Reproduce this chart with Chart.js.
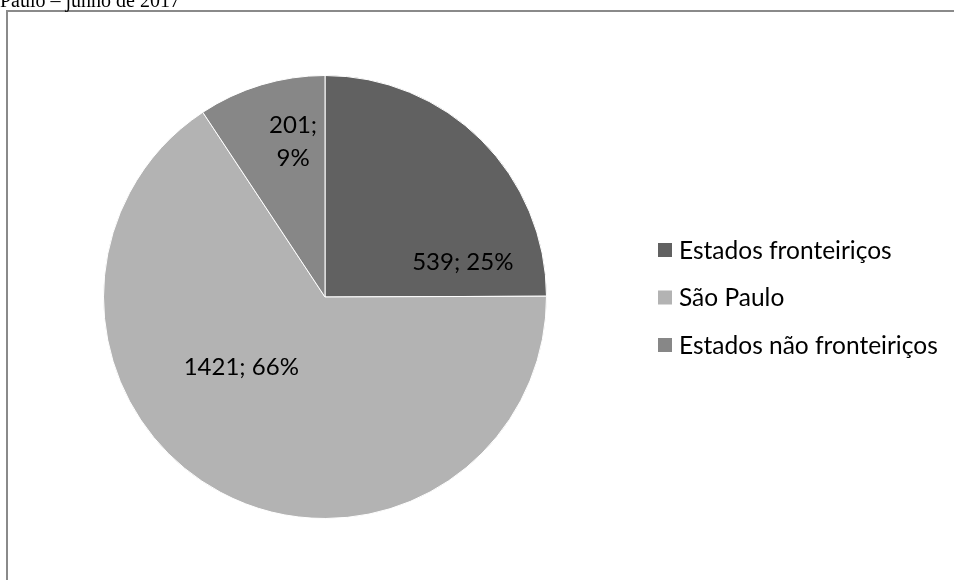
<!DOCTYPE html>
<html>
<head>
<meta charset="utf-8">
<script src="https://cdn.jsdelivr.net/npm/chart.js@4.4.1/dist/chart.umd.min.js"></script>
<style>
  html, body { margin: 0; padding: 0; background: #ffffff; overflow: hidden; }
  #wrap { position: absolute; left: 0; top: 0; width: 954px; height: 580px; }
</style>
</head>
<body>
<div id="wrap"><canvas id="c" width="954" height="580"></canvas></div>
<script>
// ---- data ----
const categories = ['Estados fronteiriços', 'São Paulo', 'Estados não fronteiriços'];
const values = [539, 1421, 201];
const percentLabels = ['25%', '66%', '9%'];
const sliceColors = ['#616161', '#b3b3b3', '#878787'];
const captionText = 'Paulo – junho de 2017';

// label placement relative to pie centre, in units of radius
const labelOffsets = [[0.622, -0.158], [-0.378, 0.315], [-0.144, -0.703]];
const labelLines = [
  [values[0] + '; ' + percentLabels[0]],
  [values[1] + '; ' + percentLabels[1]],
  [values[2] + ';', percentLabels[2]]
];

const FONT = 'Lato, "Open Sans", sans-serif';

const framePlugin = {
  id: 'frame',
  beforeDraw(chart) {
    const ctx = chart.ctx;
    ctx.save();
    ctx.fillStyle = '#ffffff';
    ctx.fillRect(0, 0, chart.width, chart.height);
    ctx.strokeStyle = '#8a8a8a';
    ctx.lineWidth = 2;
    ctx.beginPath();
    ctx.moveTo(7, 600);
    ctx.lineTo(7, 11);
    ctx.lineTo(960, 11);
    ctx.stroke();
    ctx.fillStyle = '#000000';
    ctx.font = '20px "Liberation Serif", "Times New Roman", serif';
    ctx.textBaseline = 'alphabetic';
    ctx.textAlign = 'left';
    ctx.fillText(captionText, 0, 7);
    ctx.restore();
  }
};

const labelPlugin = {
  id: 'sliceLabels',
  afterDatasetsDraw(chart) {
    const ctx = chart.ctx;
    const meta = chart.getDatasetMeta(0);
    ctx.save();
    ctx.fillStyle = '#000000';
    ctx.font = '24px ' + FONT;
    ctx.textAlign = 'center';
    ctx.textBaseline = 'middle';
    meta.data.forEach((arc, i) => {
      const r = arc.outerRadius;
      const cx = arc.x + labelOffsets[i][0] * r;
      const cy = arc.y + labelOffsets[i][1] * r;
      const lines = labelLines[i];
      const lh = 33;
      lines.forEach((t, k) => {
        ctx.fillText(t, cx, cy + (k - (lines.length - 1) / 2) * lh);
      });
    });
    // legend
    const lx = 658, ly0 = 250, step = 47.5, sq = 14;
    ctx.textAlign = 'left';
    ctx.font = '24.5px ' + FONT;
    chart.data.labels.forEach((lab, i) => {
      const y = ly0 + i * step;
      ctx.fillStyle = chart.data.datasets[0].backgroundColor[i];
      ctx.fillRect(lx, y - sq / 2, sq, sq);
      ctx.fillStyle = '#000000';
      ctx.fillText(lab, lx + 21, y + 1);
    });
    ctx.restore();
  }
};

new Chart(document.getElementById('c'), {
  type: 'pie',
  data: {
    labels: categories,
    datasets: [{
      data: values,
      backgroundColor: sliceColors,
      borderColor: '#ffffff',
      borderWidth: 1
    }]
  },
  options: {
    responsive: false,
    animation: false,
    layout: { padding: { left: 103, right: 407, top: 75, bottom: 61 } },
    plugins: {
      legend: { display: false },
      tooltip: { enabled: false },
      title: { display: false }
    }
  },
  plugins: [framePlugin, labelPlugin]
});
</script>
</body>
</html>
